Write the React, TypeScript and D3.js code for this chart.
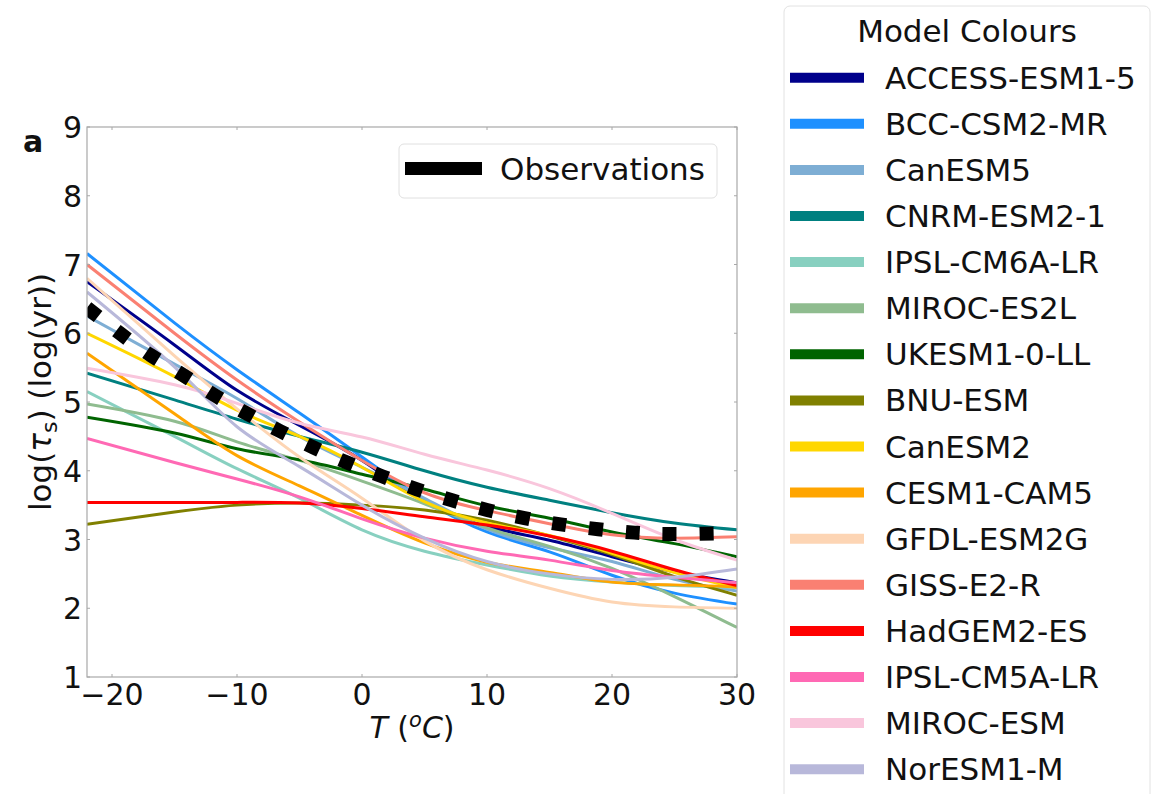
import * as d3 from "d3";

// temperature grid (deg C) the model fits were read at
const temps = [-22, -15, -10, -5, 0, 5, 10, 15, 20, 25, 30];

const models = [
  "ACCESS-ESM1-5",
  "BCC-CSM2-MR",
  "CanESM5",
  "CNRM-ESM2-1",
  "IPSL-CM6A-LR",
  "MIROC-ES2L",
  "UKESM1-0-LL",
  "BNU-ESM",
  "CanESM2",
  "CESM1-CAM5",
  "GFDL-ESM2G",
  "GISS-E2-R",
  "HadGEM2-ES",
  "IPSL-CM5A-LR",
  "MIROC-ESM",
  "NorESM1-M",
];

const modelColours = [
  "#00008b",
  "#1e90ff",
  "#7eaed4",
  "#008080",
  "#88d0c0",
  "#8fbc8f",
  "#006400",
  "#808000",
  "#ffd700",
  "#ffa500",
  "#fdd5b4",
  "#fa8072",
  "#ff0000",
  "#ff69b4",
  "#f9c6dc",
  "#b8b8da",
];

// log(tau_s) per model at each of temps
const accessEsm15 = [6.75, 5.83, 5.17, 4.66, 4.15, 3.55, 3.19, 2.99, 2.75, 2.53, 2.37];
const bccCsm2Mr = [7.16, 6.15, 5.47, 4.84, 4.2, 3.57, 3.11, 2.82, 2.48, 2.22, 2.06];
const canEsm5 = [6.25, 5.55, 5.05, 4.5, 4.05, 3.6, 3.15, 2.88, 2.68, 2.42, 2.25];
const cnrmEsm21 = [5.42, 5.03, 4.75, 4.5, 4.27, 4.0, 3.76, 3.57, 3.39, 3.24, 3.14];
const ipslCm6aLr = [5.15, 4.5, 4.03, 3.6, 3.14, 2.83, 2.63, 2.47, 2.38, 2.33, 2.3];
const mirocEs2l = [4.97, 4.72, 4.42, 4.15, 3.85, 3.52, 3.17, 2.9, 2.58, 2.17, 1.72];
const ukesm10ll = [4.78, 4.55, 4.32, 4.16, 3.95, 3.73, 3.49, 3.31, 3.11, 2.94, 2.75];
const bnuEsm = [3.22, 3.4, 3.5, 3.53, 3.5, 3.43, 3.28, 3.05, 2.78, 2.46, 2.19];
const canEsm2 = [6.0, 5.37, 4.88, 4.5, 4.05, 3.55, 3.24, 3.06, 2.8, 2.52, 2.3];
const cesm1Cam5 = [5.71, 4.83, 4.22, 3.78, 3.35, 2.95, 2.67, 2.52, 2.38, 2.34, 2.31];
const gfdlEsm2g = [6.8, 5.67, 4.9, 4.2, 3.6, 2.98, 2.56, 2.29, 2.09, 2.02, 2.0];
const gissE2r = [7.0, 6.0, 5.32, 4.71, 4.15, 3.68, 3.42, 3.23, 3.07, 3.02, 3.04];
const hadGem2Es = [3.54, 3.54, 3.54, 3.53, 3.45, 3.33, 3.21, 3.05, 2.83, 2.56, 2.33];
const ipslCm5aLr = [4.47, 4.12, 3.88, 3.62, 3.3, 3.02, 2.83, 2.7, 2.55, 2.45, 2.37];
const mirocEsm = [5.49, 5.25, 4.98, 4.69, 4.49, 4.24, 4.01, 3.74, 3.38, 3.0, 2.7];
const norEsm1m = [6.6, 5.51, 4.64, 4.06, 3.5, 3.02, 2.68, 2.5, 2.42, 2.45, 2.57];

const modelValues = [
  accessEsm15, bccCsm2Mr, canEsm5, cnrmEsm21, ipslCm6aLr, mirocEs2l, ukesm10ll, bnuEsm,
  canEsm2, cesm1Cam5, gfdlEsm2g, gissE2r, hadGem2Es, ipslCm5aLr, mirocEsm, norEsm1m,
];

// observed fit
const obsTemps = [-22, -19.3, -16.9, -14.3, -11.9, -9.3, -6.6, -3.9, -1.2, 1.6, 4.4, 7.2, 10, 13, 15.9, 18.9, 21.8, 24.8, 28.5];
const obsValues = [6.37, 5.99, 5.68, 5.39, 5.11, 4.84, 4.58, 4.34, 4.12, 3.92, 3.73, 3.57, 3.43, 3.31, 3.22, 3.15, 3.1, 3.08, 3.09];

const xTicks = [-20, -10, 0, 10, 20, 30];
const yTicks = [1, 2, 3, 4, 5, 6, 7, 8, 9];

const FONT = "DejaVu Sans, sans-serif";

export default function App() {
  const left = 87, right = 737, top = 127, bottom = 677;
  const x = d3.scaleLinear().domain([-22, 30]).range([left, right]);
  const y = d3.scaleLinear().domain([1, 9]).range([bottom, top]);

  const line = d3
    .line<[number, number]>()
    .x((d) => x(d[0]))
    .y((d) => y(d[1]))
    .curve(d3.curveNatural);

  const obsPath = line(obsTemps.map((t, i) => [t, obsValues[i]]));

  const legendY0 = 77.7;
  const legendStep = 46.1;

  return (
    <svg
      width={1158}
      height={794}
      style={{ position: "absolute", left: 0, top: 0, background: "white" }}
      fontFamily={FONT}
    >
      <defs>
        <clipPath id="plot">
          <rect x={left} y={top} width={right - left} height={bottom - top} />
        </clipPath>
      </defs>

      <g clipPath="url(#plot)">
        {modelValues.map((vals, i) => (
          <path
            key={models[i]}
            d={line(temps.map((t, j) => [t, vals[j]])) || ""}
            fill="none"
            stroke={modelColours[i]}
            strokeWidth={3}
          />
        ))}
        <path
          d={obsPath || ""}
          fill="none"
          stroke="black"
          strokeWidth={14}
          strokeDasharray="14 23"
        />
      </g>

      {/* frame */}
      <rect
        x={left}
        y={top}
        width={right - left}
        height={bottom - top}
        fill="none"
        stroke="#a8a8a8"
        strokeWidth={1.2}
      />
      {xTicks.map((t) => (
        <g key={"xt" + t}>
          <line x1={x(t)} x2={x(t)} y1={bottom} y2={bottom - 3} stroke="#a8a8a8" />
          <line x1={x(t)} x2={x(t)} y1={top} y2={top + 3} stroke="#a8a8a8" />
          <text x={x(t)} y={705} fontSize={30} textAnchor="middle" fill="#111">
            {t < 0 ? "\u2212" + Math.abs(t) : t}
          </text>
        </g>
      ))}
      {yTicks.map((v) => (
        <g key={"yt" + v}>
          <line x1={left} x2={left + 3} y1={y(v)} y2={y(v)} stroke="#a8a8a8" />
          <line x1={right} x2={right - 3} y1={y(v)} y2={y(v)} stroke="#a8a8a8" />
          <text x={82} y={y(v) + 11} fontSize={30} textAnchor="end" fill="#111">
            {v}
          </text>
        </g>
      ))}

      <text x={412} y={738} fontSize={30} textAnchor="middle" fill="#111">
        <tspan fontStyle="italic">T</tspan>
        <tspan> (</tspan>
        <tspan fontStyle="italic" fontSize={21} dy={-11}>o</tspan>
        <tspan fontStyle="italic" dy={11}>C</tspan>
        <tspan>)</tspan>
      </text>

      <text
        transform="translate(51,392) rotate(-90)"
        fontSize={31}
        textAnchor="middle"
        fill="#111"
      >
        <tspan>log(</tspan>
        <tspan fontStyle="italic">τ</tspan>
        <tspan fontSize={22} dy={6}>s</tspan>
        <tspan dy={-6}>) (log(yr))</tspan>
      </text>

      <text x={23} y={152} fontSize={30} fontWeight="bold" fill="#111">
        a
      </text>

      {/* observation legend */}
      <rect x={399} y={144} width={318} height={54} rx={5} fill="white" fillOpacity={0.85} stroke="#e0e0e0" />
      <line x1={405} x2={482} y1={168.5} y2={168.5} stroke="black" strokeWidth={13} />
      <text x={500} y={180} fontSize={31} fill="#111">
        Observations
      </text>

      {/* model legend */}
      <rect x={784} y={6} width={366} height={800} rx={6} fill="white" stroke="#e2e2e2" />
      <text x={967} y={42} fontSize={31} textAnchor="middle" fill="#111">
        Model Colours
      </text>
      {models.map((m, i) => (
        <g key={"lg" + m}>
          <line
            x1={790}
            x2={864}
            y1={legendY0 + i * legendStep}
            y2={legendY0 + i * legendStep}
            stroke={modelColours[i]}
            strokeWidth={10}
          />
          <text x={885} y={legendY0 + i * legendStep + 11} fontSize={31} fill="#111">
            {m}
          </text>
        </g>
      ))}
    </svg>
  );
}
